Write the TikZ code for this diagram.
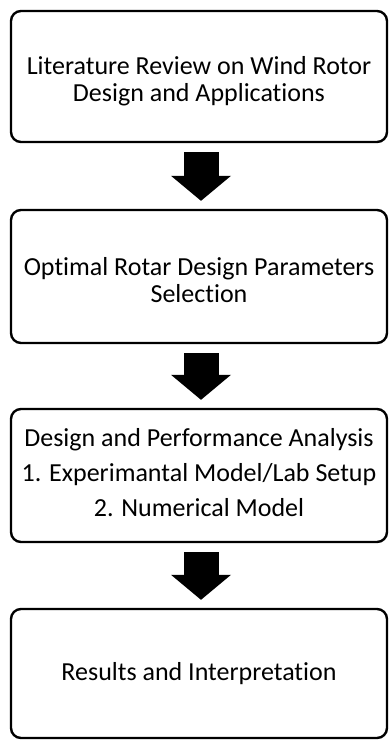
\documentclass[tikz,border=0pt]{standalone}
\usepackage{fontspec}
\setmainfont[Ligatures=NoCommon]{Carlito}
\usetikzlibrary{arrows.meta}
\begin{document}
\begin{tikzpicture}[x=1pt,y=-1pt,
  box/.style={draw, line width=2.4pt, rounded corners=10pt, minimum width=376pt, inner sep=0pt},
  txt/.style={align=center, font=\fontsize{26}{27}\selectfont, inner sep=0pt},
  flow/.style={line width=35pt, -{Triangle[width=60pt,length=25pt,line width=0pt]},
    shorten <=9pt, shorten >=8pt}]
\useasboundingbox (0,0) rectangle (389,741);
\node[box, minimum height=131pt] (b1) at (199,76.5) {};
\node[box, minimum height=133pt] (b2) at (199,276.5) {};
\node[box, minimum height=133pt] (b3) at (199,475.5) {};
\node[box, minimum height=129pt] (b4) at (199,673.5) {};
\node[txt] (t1) at ([yshift=-5pt]b1.center)
  {Literature Review on Wind Rotor\\Design and Applications};
\node[txt] (t2) at ([yshift=-4pt]b2.center)
  {Optimal Rotar Design Parameters\\Selection};
\node[txt, font=\fontsize{26}{35}\selectfont] (t3) at ([yshift=3pt]b3.center)
  {Design and Performance Analysis\\1. Experimantal Model/Lab Setup\\2. Numerical Model};
\node[txt] (t4) at (b4.center) {Results and Interpretation};
\draw[flow] ([xshift=2pt]b1.south) -- ([xshift=2pt]b2.north);
\draw[flow] ([xshift=2pt]b2.south) -- ([xshift=2pt]b3.north);
\draw[flow] ([xshift=2pt]b3.south) -- ([xshift=2pt]b4.north);
\end{tikzpicture}
\end{document}
